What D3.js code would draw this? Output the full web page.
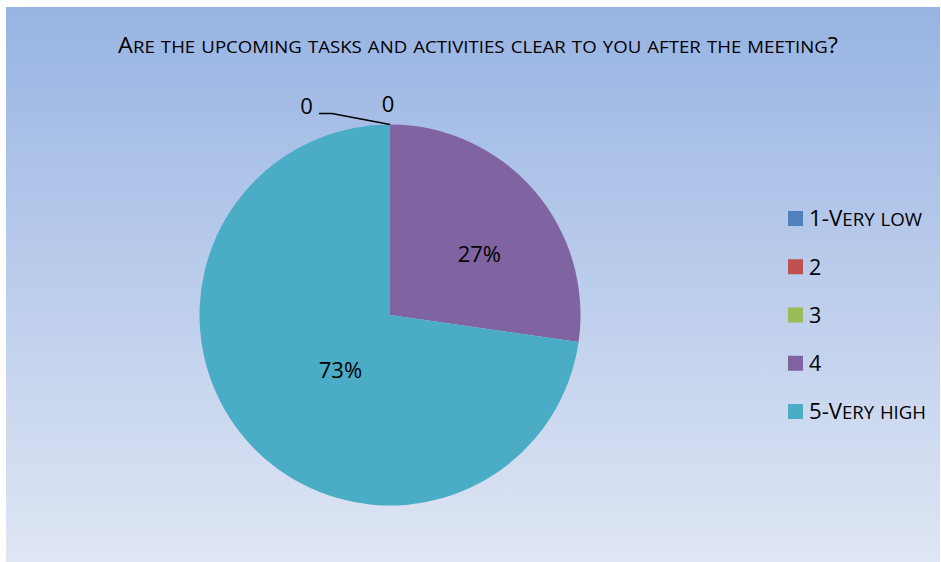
<!DOCTYPE html>
<html><head><meta charset="utf-8">
<script src="https://cdn.jsdelivr.net/npm/d3@7"></script>
<style>body{margin:0;background:#fff}svg{display:block}text{font-family:"Open Sans","Noto Sans",sans-serif}</style>
</head><body><svg id="c" width="941" height="562"></svg>
<script>
const categories = ["1-Very low", "2", "3", "4", "5-Very high"];
const values = [0, 0, 0, 3, 8];
const colors = ["#4f81bd", "#c0504d", "#9bbb59", "#8064a2", "#4bacc6"];
const title = "Are the upcoming tasks and activities clear to you after the meeting?";

const svg = d3.select("#c");
const defs = svg.append("defs");
const g = defs.append("linearGradient").attr("id","bg").attr("x1",0).attr("y1",0).attr("x2",0).attr("y2",1);
g.append("stop").attr("offset","0%").attr("stop-color","#98b4e3");
g.append("stop").attr("offset","100%").attr("stop-color","#dfe6f4");
svg.append("rect").attr("x",6).attr("y",7).attr("width",934).attr("height",555).attr("fill","url(#bg)");

// manual small caps: lowercase letters rendered as smaller capitals
function smallCaps(textSel, str, big, small) {
  const runs = [];
  for (const ch of str) {
    const isLower = ch !== ch.toUpperCase();
    const size = isLower ? small : big;
    if (runs.length && runs[runs.length-1].size === size) runs[runs.length-1].t += ch.toUpperCase();
    else runs.push({size, t: ch.toUpperCase()});
  }
  runs.forEach(r => textSel.append("tspan").style("font-size", r.size + "px").text(r.t));
  return textSel;
}

const tt = svg.append("text").attr("x",478).attr("y",53).attr("text-anchor","middle").attr("fill","#000")
  .attr("textLength",720).attr("lengthAdjust","spacingAndGlyphs");
smallCaps(tt, title, 21.5, 17);

const cx = 390, cy = 315, r = 190.5;
const total = d3.sum(values);
const pie = d3.pie().sort(null).value(d => d)(values);
const arc = d3.arc().innerRadius(0).outerRadius(r);
const pg = svg.append("g").attr("transform",`translate(${cx},${cy})`);
pg.selectAll("path.slice").data(pie).join("path").attr("class","slice").attr("d",arc).attr("fill",(d,i)=>colors[i]);

// data labels (Excel best-fit style offsets)
const labR = [0,0,0,0.6,0.4];
const labOff = [[0,0],[0,0],[0,0],[3,14],[8,5]];
pg.selectAll("text.pct").data(pie).join("text").attr("class","pct")
  .filter(d=>d.data>0)
  .attr("transform",d=>{
    const a = d3.arc().innerRadius(r*labR[d.index]).outerRadius(r*labR[d.index]).centroid(d);
    return `translate(${a[0]+labOff[d.index][0]},${a[1]+labOff[d.index][1]})`;})
  .attr("text-anchor","middle").attr("dy","0.36em").style("font-size","22px").attr("fill","#000")
  .text(d=>Math.round(d.data/total*100)+"%");

// zero labels
const zeros = pie.filter(d=>d.data===0);
pg.append("path").attr("d",`M0,${-r} L${-58},${-r-11} L${-71},${-r-11}`)
  .attr("fill","none").attr("stroke","#000").attr("stroke-width",1.6);
pg.append("text").attr("x",-83.5).attr("y",-r-18.5).attr("dy","0.36em").attr("text-anchor","middle").style("font-size","22px").text(zeros[0].data);
pg.append("text").attr("x",-2).attr("y",-r-20).attr("dy","0.36em").attr("text-anchor","middle").style("font-size","22px").text(zeros[1].data);

const leg = svg.append("g");
const ly = d3.scalePoint().domain(categories).range([218.5,411.5]);
const legLen = {"1-Very low":113, "5-Very high":117};
categories.forEach((c,i)=>{
  leg.append("rect").attr("x",788).attr("y",ly(c)-7.5).attr("width",15).attr("height",15).attr("fill",colors[i]);
  const t = leg.append("text").attr("x",809).attr("y",ly(c)+7.8).attr("fill","#000");
  if (legLen[c]) t.attr("textLength",legLen[c]).attr("lengthAdjust","spacingAndGlyphs");
  smallCaps(t, c, 21.5, 18);
});
</script></body></html>
